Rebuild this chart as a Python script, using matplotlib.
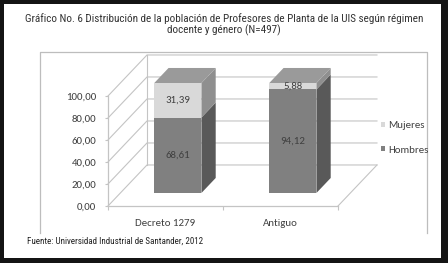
import matplotlib

matplotlib.use("Agg")
import matplotlib.pyplot as plt
from matplotlib.patches import Patch, Rectangle

# data
categories = ["Decreto 1279", "Antiguo"]
hombres = [68.61, 94.12]
mujeres = [31.39, 5.88]
y_ticks = [0, 20, 40, 60, 80, 100]
y_tick_labels = ["0,00", "20,00", "40,00", "60,00", "80,00", "100,00"]
title = ("Gráfico No. 6 Distribución de la población de Profesores de Planta de la UIS según régimen\n"
         "docente y género (N=497)")
source = "Fuente: Universidad Industrial de Santander, 2012"

NARROW = ["Roboto Condensed", "DejaVu Sans"]
CAL = ["Carlito", "DejaVu Sans"]
GRID = "#c4c4c4"
TXT = "#404040"
COL_FRONT = {"Hombres": "#808080", "Mujeres": "#d9d9d9"}
COL_SIDE = {"Hombres": "#595959", "Mujeres": "#8f8f8f"}
COL_TOP = "#9a9a9a"

W, H = 448, 263

# fake 3D: full floor depth in data units, and the bar's depth slice
DX, DY = 0.339, 37.3
D0, D1 = 0.317, 0.683
BAR_W = 0.41

fig = plt.figure(figsize=(W / 100, H / 100), dpi=100)
fig.patch.set_facecolor("white")

# overlay in pixel coords for frame and box
over = fig.add_axes([0, 0, 1, 1])
over.set_xlim(0, W)
over.set_ylim(H, 0)
over.axis("off")
for x, y, w, h in [(0, 0, W, 4), (0, 0, 4, H), (441, 0, 7, H), (0, 258, W, 5)]:
    over.add_patch(Rectangle((x, y), w, h, color="#141414", lw=0))
over.plot([40, 40, 427, 427], [233, 52, 52, 233], color="#bdbdbd", lw=0.9)

fig.text(0.5, (H - 24.5) / H, title, ha="center", va="center", fontsize=8.0,
         family=NARROW, color="#333333", linespacing=1.1)
fig.text(27 / W, (H - 241) / H, source, ha="left", va="center", fontsize=6.5,
         family=NARROW, color="#222222")

ax = fig.add_axes([108 / W, (H - 206) / H, 230 / W, 110 / H])
ax.set_xlim(0, 2)
ax.set_ylim(0, 100)
ax.patch.set_visible(False)
for side in ["top", "right"]:
    ax.spines[side].set_visible(False)
for side in ["left", "bottom"]:
    ax.spines[side].set_color(GRID)
    ax.spines[side].set_linewidth(0.9)

ax.set_yticks(y_ticks)
ax.set_yticklabels(y_tick_labels, family=CAL, fontsize=7.8, color=TXT)
ax.tick_params(axis="y", length=2.5, width=0.8, color=GRID, pad=6)
ax.set_xticks([0, 1, 2])
ax.set_xticklabels(["", "", ""])
ax.set_xticks([0.5, 1.5], minor=True)
ax.set_xticklabels(categories, minor=True, family=CAL, fontsize=7.8, color=TXT)
ax.tick_params(axis="x", which="major", length=3, width=0.8, color=GRID)
ax.tick_params(axis="x", which="minor", length=0, pad=9)

# walls and floor
kw = dict(color=GRID, lw=0.8, clip_on=False, zorder=1)
for v in y_ticks:
    ax.plot([0, DX, 2 + DX], [v, v + DY, v + DY], **kw)
ax.plot([DX, DX], [DY, 100 + DY], **kw)
ax.plot([2, 2 + DX], [0, DY], **kw)

# bars
ox0, oy0 = D0 * DX, D0 * DY
ox1, oy1 = D1 * DX, D1 * DY
for i, cat in enumerate(categories):
    x0 = i + 0.5 - BAR_W / 2
    x1 = i + 0.5 + BAR_W / 2
    bottom = 0.0
    for name, vals in [("Hombres", hombres), ("Mujeres", mujeres)]:
        b, t = bottom, bottom + vals[i]
        ax.fill([x0 + ox0, x1 + ox0, x1 + ox0, x0 + ox0],
                [b + oy0, b + oy0, t + oy0, t + oy0],
                color=COL_FRONT[name], lw=0, clip_on=False, zorder=3)
        ax.fill([x1 + ox0, x1 + ox1, x1 + ox1, x1 + ox0],
                [b + oy0, b + oy1, t + oy1, t + oy0],
                color=COL_SIDE[name], lw=0, clip_on=False, zorder=3)
        ax.text((x0 + x1) / 2 + ox0, (b + t) / 2 + oy0, f"{vals[i]:.2f}".replace(".", ","),
                ha="center", va="center", family=CAL, fontsize=7.8, color=TXT, zorder=5)
        bottom = t
    ax.fill([x0 + ox0, x1 + ox0, x1 + ox1, x0 + ox1],
            [bottom + oy0, bottom + oy0, bottom + oy1, bottom + oy1],
            color=COL_TOP, lw=0, clip_on=False, zorder=3)

handles = [Patch(facecolor=COL_FRONT["Mujeres"]), Patch(facecolor=COL_FRONT["Hombres"])]
fig.legend(handles, ["Mujeres", "Hombres"], loc="center left",
           bbox_to_anchor=(371 / W, (H - 138) / H), frameon=False,
           prop={"family": CAL, "size": 7.8}, labelcolor=TXT,
           handlelength=0.4, handleheight=0.4, handletextpad=0.3, labelspacing=1.4)

fig.savefig("out.png", dpi=100)
